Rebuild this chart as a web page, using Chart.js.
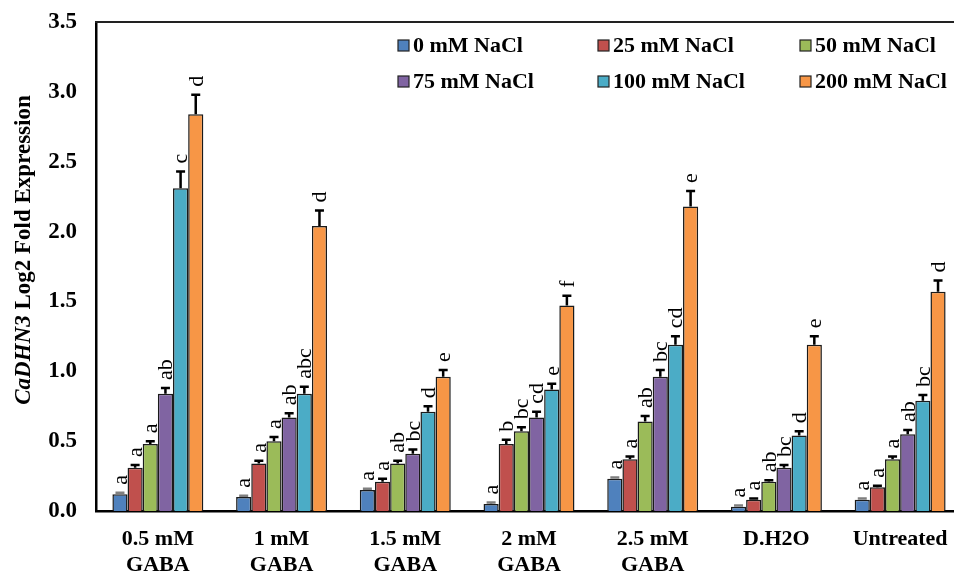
<!DOCTYPE html>
<html lang="en">
<head>
  <meta charset="UTF-8" />
  <title>CaDHN3 Log2 Fold Expression</title>
  <script src="https://cdn.jsdelivr.net/npm/chart.js"></script>
  <style>
    * {
      margin: 0;
      padding: 0;
      box-sizing: border-box;
    }

    body {
      background-color: #fff;
      overflow: hidden;
      width: 954px;
      height: 573px;
    }

    .chart-box {
      width: 970px;
      height: 573px;
    }
  </style>
</head>
<body>

  <div class="chart-box">
    <canvas id="dhnChart" width="970" height="573"></canvas>
  </div>

  <script>
    // Data
    const categories = [['0.5 mM', 'GABA'], ['1 mM', 'GABA'], ['1.5 mM', 'GABA'], ['2 mM', 'GABA'], ['2.5 mM', 'GABA'], 'D.H2O', 'Untreated'];
    const seriesNames = ['0 mM NaCl', '25 mM NaCl', '50 mM NaCl', '75 mM NaCl', '100 mM NaCl', '200 mM NaCl'];
    const yTicks = [0, 0.5, 1.0, 1.5, 2.0, 2.5, 3.0, 3.5];

    const nacl0   = [0.12, 0.10, 0.15, 0.05, 0.23, 0.03, 0.08];
    const nacl25  = [0.31, 0.34, 0.21, 0.48, 0.37, 0.08, 0.17];
    const nacl50  = [0.48, 0.50, 0.34, 0.57, 0.64, 0.21, 0.37];
    const nacl75  = [0.84, 0.67, 0.41, 0.67, 0.96, 0.31, 0.55];
    const nacl100 = [2.31, 0.84, 0.71, 0.87, 1.19, 0.54, 0.79];
    const nacl200 = [2.84, 2.04, 0.96, 1.47, 2.18, 1.19, 1.57];

    // standard errors (upper whisker only is visible)
    const err0   = [0.01, 0.01, 0.01, 0.01, 0.01, 0.01, 0.01];
    const err25  = [0.02, 0.02, 0.02, 0.03, 0.02, 0.01, 0.01];
    const err50  = [0.02, 0.03, 0.02, 0.03, 0.04, 0.01, 0.02];
    const err75  = [0.04, 0.03, 0.03, 0.04, 0.05, 0.02, 0.03];
    const err100 = [0.12, 0.05, 0.04, 0.04, 0.06, 0.03, 0.04];
    const err200 = [0.14, 0.11, 0.05, 0.07, 0.11, 0.06, 0.08];

    // significance letters
    const let0   = ['a', 'a', 'a', 'a', 'a', 'a', 'a'];
    const let25  = ['a', 'a', 'a', 'b', 'a', 'a', 'a'];
    const let50  = ['a', 'a', 'ab', 'bc', 'ab', 'ab', 'a'];
    const let75  = ['ab', 'ab', 'bc', 'cd', 'bc', 'bc', 'ab'];
    const let100 = ['c', 'abc', 'd', 'e', 'cd', 'd', 'bc'];
    const let200 = ['d', 'd', 'e', 'f', 'e', 'e', 'd'];

    const colors = ['#4F81BD', '#C0504D', '#9BBB59', '#8064A2', '#4BACC6', '#F79646'];
    const errColors = ['#7f7f7f', '#000', '#000', '#000', '#000', '#000'];

    const values = [nacl0, nacl25, nacl50, nacl75, nacl100, nacl200];
    const errors = [err0, err25, err50, err75, err100, err200];
    const letters = [let0, let25, let50, let75, let100, let200];

    const serif = "'Liberation Serif', 'Times New Roman', serif";

    // error bars + letters drawn on top of the bars
    const errorBarPlugin = {
      id: 'errorBars',
      afterDatasetsDraw(chart) {
        const ctx = chart.ctx;
        const yScale = chart.scales.y;
        chart.data.datasets.forEach((ds, i) => {
          const meta = chart.getDatasetMeta(i);
          meta.data.forEach((bar, j) => {
            const yTop = yScale.getPixelForValue(values[i][j] + errors[i][j]);
            ctx.save();
            ctx.strokeStyle = errColors[i];
            ctx.lineWidth = 2.5;
            ctx.beginPath();
            ctx.moveTo(bar.x, bar.y);
            ctx.lineTo(bar.x, yTop);
            ctx.moveTo(bar.x - 4.5, yTop);
            ctx.lineTo(bar.x + 4.5, yTop);
            ctx.stroke();

            ctx.translate(bar.x, yTop - 8);
            ctx.rotate(-Math.PI / 2);
            ctx.fillStyle = '#000';
            ctx.font = '22px ' + serif;
            ctx.textAlign = 'left';
            ctx.textBaseline = 'middle';
            ctx.fillText(letters[i][j], 0, 1);
            ctx.restore();
          });
        });
      }
    };

    // top frame line, legend inside plot and y title with italic gene name
    const decorPlugin = {
      id: 'decor',
      afterDraw(chart) {
        const ctx = chart.ctx;
        const area = chart.chartArea;
        ctx.save();
        ctx.strokeStyle = '#222';
        ctx.lineWidth = 2;
        ctx.beginPath();
        ctx.moveTo(area.left - 1, area.top);
        ctx.lineTo(area.right + 10, area.top);
        ctx.stroke();

        // legend, 3 columns x 2 rows
        const colX = [398, 598, 800];
        const rowY = [45, 81];
        ctx.font = 'bold 22px ' + serif;
        ctx.textBaseline = 'middle';
        ctx.textAlign = 'left';
        seriesNames.forEach((name, k) => {
          const x = colX[k % 3];
          const y = rowY[Math.floor(k / 3)];
          ctx.fillStyle = colors[k];
          ctx.fillRect(x, y - 5, 11, 11);
          ctx.strokeStyle = '#222';
          ctx.lineWidth = 1.2;
          ctx.strokeRect(x, y - 5, 11, 11);
          ctx.fillStyle = '#000';
          ctx.fillText(name, x + 15, y + 1);
        });

        // y axis title
        ctx.translate(24, 250);
        ctx.rotate(-Math.PI / 2);
        const part1 = 'CaDHN3';
        const part2 = ' Log2 Fold Expression';
        ctx.font = 'italic bold 23px ' + serif;
        const w1 = ctx.measureText(part1).width;
        ctx.font = 'bold 23px ' + serif;
        const w2 = ctx.measureText(part2).width;
        const start = -(w1 + w2) / 2;
        ctx.font = 'italic bold 23px ' + serif;
        ctx.fillText(part1, start, 0);
        ctx.font = 'bold 23px ' + serif;
        ctx.fillText(part2, start + w1, 0);
        ctx.restore();
      }
    };

    const ctx = document.getElementById('dhnChart').getContext('2d');

    new Chart(ctx, {
      type: 'bar',
      data: {
        labels: categories,
        datasets: seriesNames.map((name, i) => ({
          label: name,
          data: values[i],
          backgroundColor: colors[i],
          borderColor: '#1a1a1a',
          borderWidth: 1.5,
          categoryPercentage: 0.735,
          barPercentage: 1.0
        }))
      },
      options: {
        responsive: false,
        animation: false,
        layout: {
          padding: { top: 22, right: 8, left: 0, bottom: 0 }
        },
        plugins: {
          legend: { display: false },
          tooltip: { enabled: false }
        },
        scales: {
          x: {
            grid: { display: false, drawTicks: false },
            border: { display: true, color: '#000', width: 2.5 },
            ticks: {
              color: '#000',
              padding: 15,
              maxRotation: 0,
              autoSkip: false,
              font: { family: serif, size: 22, weight: 'bold', lineHeight: 1.18 }
            },
            afterFit(scale) {
              scale.height = 62;
              scale.paddingLeft = 0;
              scale.paddingRight = 0;
            }
          },
          y: {
            min: 0,
            max: 3.5,
            grid: { display: false, drawTicks: false },
            border: { display: true, color: '#000', width: 2.5 },
            afterBuildTicks(scale) {
              scale.ticks = yTicks.map(v => ({ value: v }));
            },
            ticks: {
              color: '#000',
              padding: 19,
              callback: v => Number(v).toFixed(1),
              font: { family: serif, size: 23, weight: 'bold' }
            },
            afterFit(scale) {
              scale.width = 96;
              scale.paddingTop = 0;
              scale.paddingBottom = 0;
            }
          }
        }
      },
      plugins: [errorBarPlugin, decorPlugin]
    });
  </script>
</body>
</html>
